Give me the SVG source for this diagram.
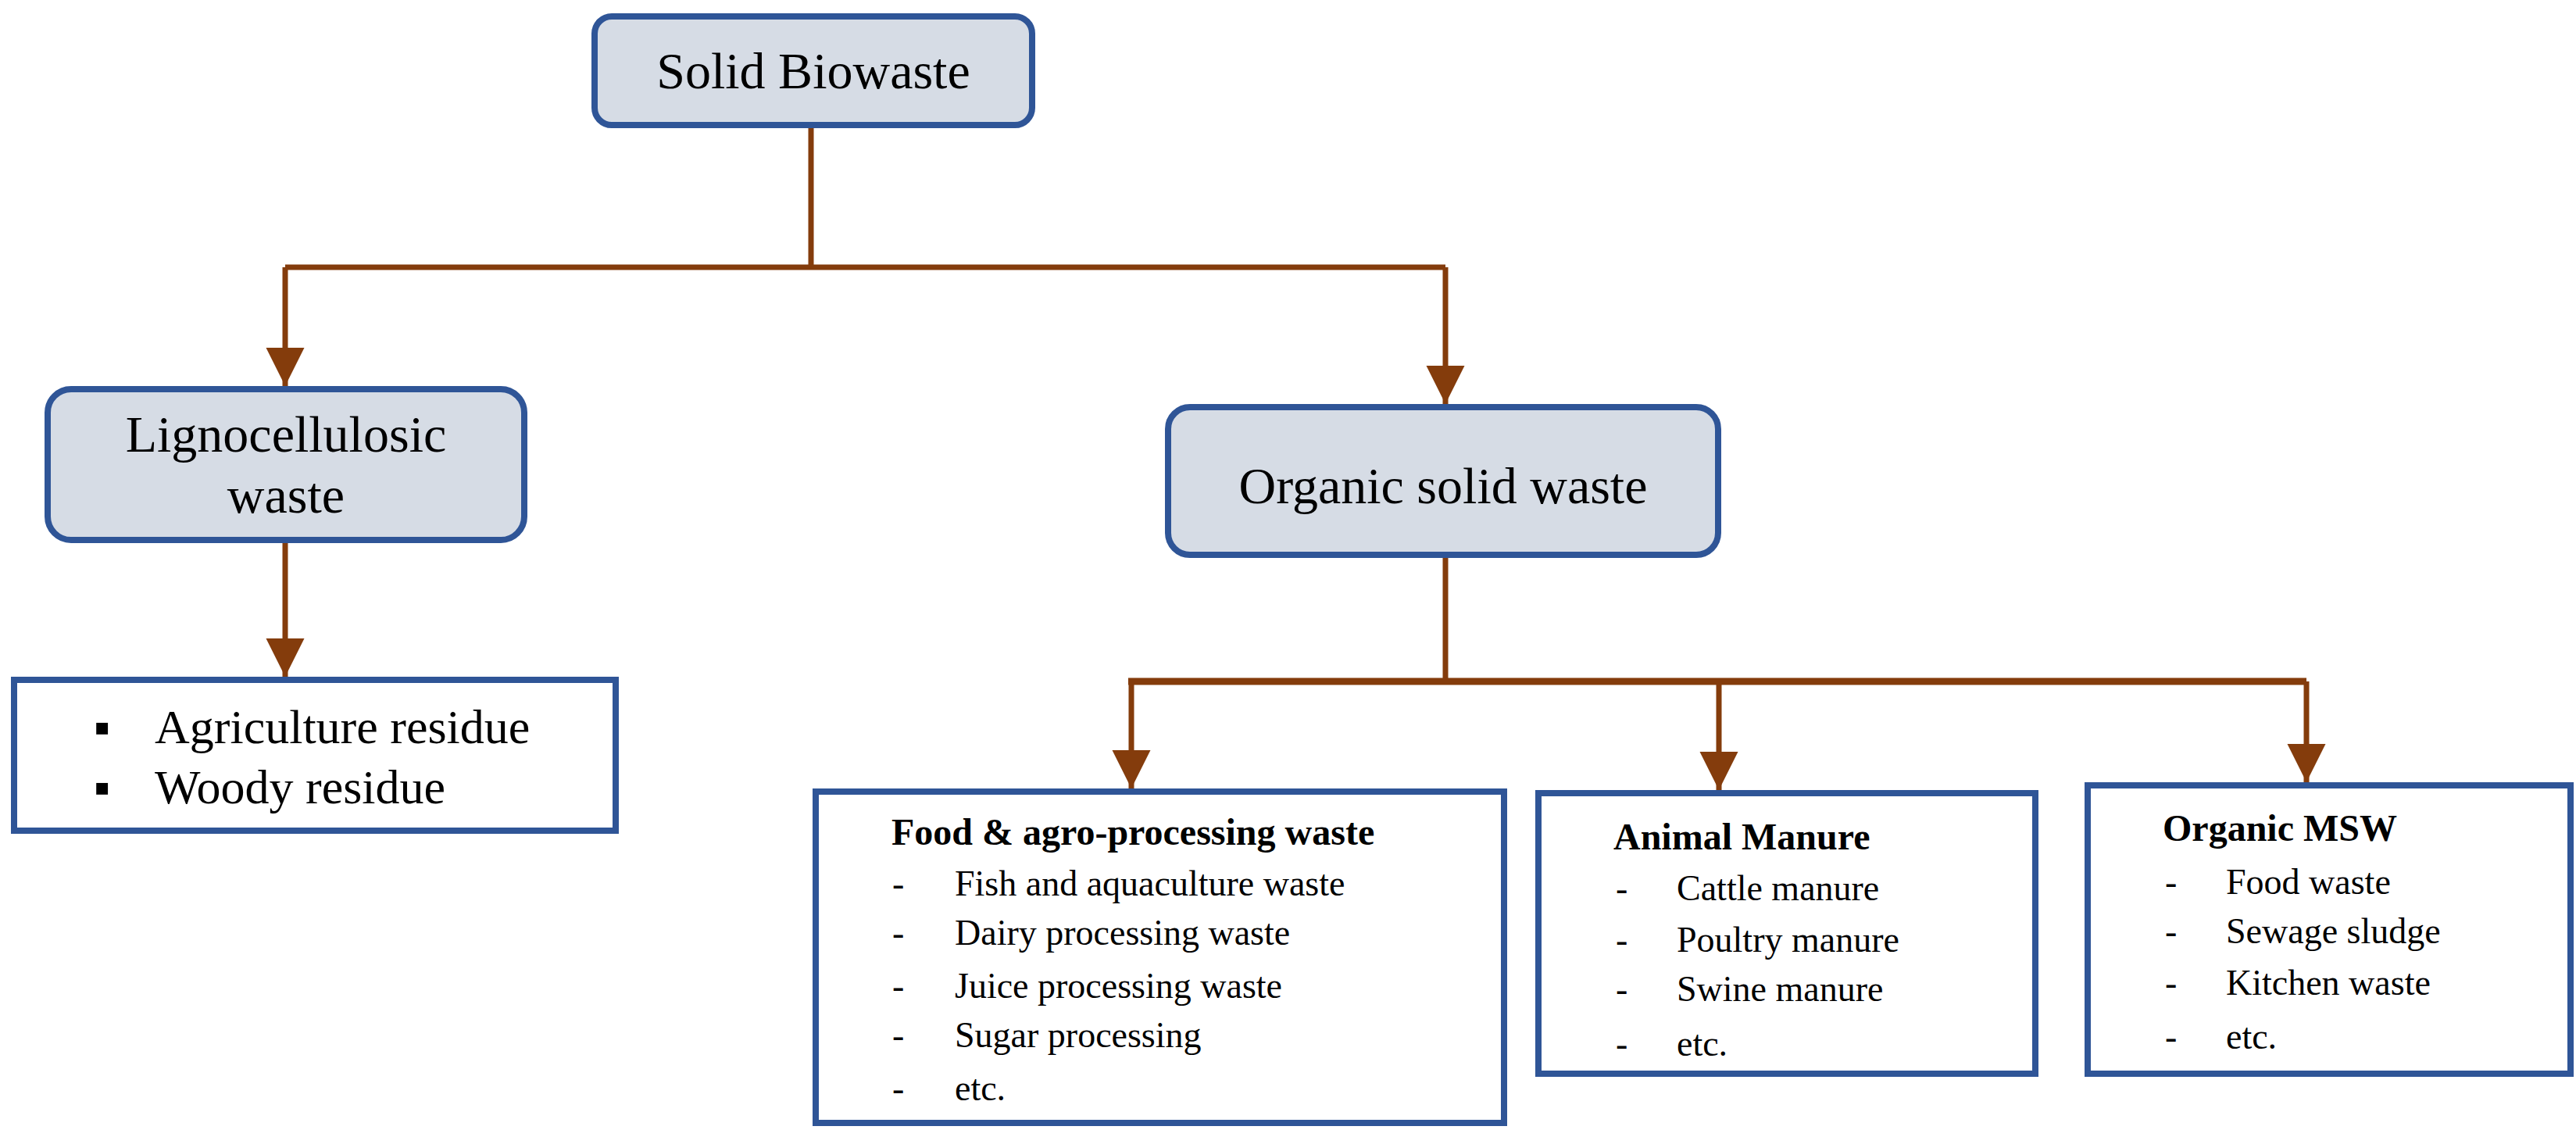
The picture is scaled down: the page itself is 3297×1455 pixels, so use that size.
<svg xmlns="http://www.w3.org/2000/svg" width="3297" height="1455" viewBox="0 0 3297 1455">
<style>
.rb{fill:#D6DCE5;stroke:#2F5597;stroke-width:8}
.bx{fill:#fff;stroke:#2F5597;stroke-width:8}
.t{font-family:"Liberation Serif",serif;fill:#000}
.c{fill:none;stroke:#843C0C;stroke-width:7}
</style>
<defs><marker id="a" markerWidth="8" markerHeight="8" refX="7" refY="4" orient="auto" markerUnits="strokeWidth"><path d="M0,0.5 L7,4 L0,7.5Z" fill="#843C0C"/></marker></defs>
<rect width="3297" height="1455" fill="#fff"/>
<g id="connectors">
<polyline class="c" points="1038,160 1038,342"/>
<polyline class="c" points="365,342 1850,342"/>
<line class="c" x1="365" y1="342" x2="365" y2="494" marker-end="url(#a)"/>
<line class="c" x1="1850" y1="342" x2="1850" y2="517" marker-end="url(#a)"/>
<line class="c" x1="365" y1="691" x2="365" y2="866" marker-end="url(#a)"/>
<line class="c" x1="1850" y1="710" x2="1850" y2="872"/>
<line class="c" x1="1444" y1="872" x2="2952" y2="872" style="stroke-width:9"/>
<line class="c" x1="1448" y1="872" x2="1448" y2="1009" marker-end="url(#a)"/>
<line class="c" x1="2200" y1="872" x2="2200" y2="1011" marker-end="url(#a)"/>
<line class="c" x1="2952" y1="872" x2="2952" y2="1001" marker-end="url(#a)"/>
</g>
<g id="solid"><rect class="rb" x="761" y="21" width="560" height="139" rx="22"/><text class="t" x="1041" y="113" font-size="66" text-anchor="middle">Solid Biowaste</text></g>
<g id="ligno"><rect class="rb" x="61" y="498" width="610" height="193" rx="30"/><text class="t" x="366" y="578" font-size="66" text-anchor="middle">Lignocellulosic</text><text class="t" x="366" y="656" font-size="66" text-anchor="middle">waste</text></g>
<g id="agri"><rect class="bx" x="18" y="870" width="770" height="193"/><text class="t" x="120" y="951" font-size="60">▪</text><text class="t" x="198" y="951" font-size="62">Agriculture residue</text><text class="t" x="120" y="1028" font-size="60">▪</text><text class="t" x="198" y="1028" font-size="62">Woody residue</text></g>
<g id="organic"><rect class="rb" x="1495" y="521" width="704" height="189" rx="28"/><text class="t" x="1847" y="644" font-size="66" text-anchor="middle">Organic solid waste</text></g>
<g id="food"><rect class="bx" x="1044" y="1013" width="881" height="424"/>
<text class="t" x="1141" y="1081" font-size="48" font-weight="bold">Food &amp; agro-processing waste</text>
<g class="t" font-size="46"><text x="1142" y="1146">-</text><text x="1222" y="1146">Fish and aquaculture waste</text><text x="1142" y="1209">-</text><text x="1222" y="1209">Dairy processing waste</text><text x="1142" y="1277">-</text><text x="1222" y="1277">Juice processing waste</text><text x="1142" y="1340">-</text><text x="1222" y="1340">Sugar processing</text><text x="1142" y="1408">-</text><text x="1222" y="1408">etc.</text></g></g>
<g id="animal"><rect class="bx" x="1969" y="1015" width="636" height="359"/>
<text class="t" x="2065" y="1087" font-size="48" font-weight="bold">Animal Manure</text>
<g class="t" font-size="46"><text x="2068" y="1152">-</text><text x="2146" y="1152">Cattle manure</text><text x="2068" y="1218">-</text><text x="2146" y="1218">Poultry manure</text><text x="2068" y="1281">-</text><text x="2146" y="1281">Swine manure</text><text x="2068" y="1351">-</text><text x="2146" y="1351">etc.</text></g></g>
<g id="msw"><rect class="bx" x="2672" y="1005" width="618" height="369"/>
<text class="t" x="2768" y="1076" font-size="48" font-weight="bold">Organic MSW</text>
<g class="t" font-size="46"><text x="2771" y="1144">-</text><text x="2849" y="1144">Food waste</text><text x="2771" y="1207">-</text><text x="2849" y="1207">Sewage sludge</text><text x="2771" y="1273">-</text><text x="2849" y="1273">Kitchen waste</text><text x="2771" y="1342">-</text><text x="2849" y="1342">etc.</text></g></g>
</svg>
